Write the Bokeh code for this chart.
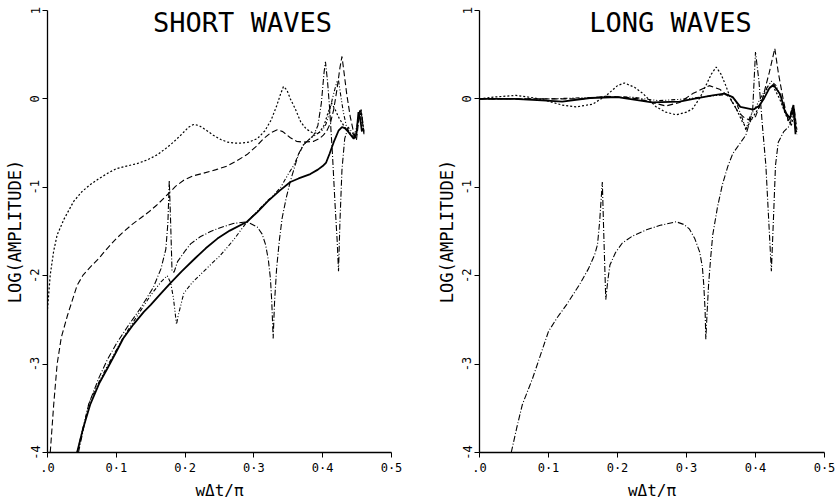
from bokeh.plotting import figure
from bokeh.layouts import row
from bokeh.models import Range1d, FixedTicker, Label
from bokeh.embed import file_html
from bokeh.resources import INLINE

# ---------------- tick labels ----------------
x_ticks = [0, 0.1, 0.2, 0.3, 0.4, 0.5]
x_tick_labels = [".0", "0·1", "0·2", "0·3", "0·4", "0·5"]
y_ticks = [-4, -3, -2, -1, 0, 1]
y_tick_labels = ["-4", "-3", "-2", "-1", "0", "1"]

# ---------------- SHORT WAVES ----------------
sw_dot_x = [0.0, 0.004, 0.009, 0.014, 0.024, 0.038, 0.05, 0.062, 0.075, 0.09, 0.10, 0.115, 0.131, 0.145,
            0.16, 0.172, 0.183, 0.195, 0.205, 0.212, 0.22, 0.23, 0.241, 0.252, 0.262, 0.272, 0.28, 0.292,
            0.305, 0.316, 0.325, 0.333, 0.339, 0.343, 0.348, 0.353, 0.36, 0.368, 0.376, 0.387, 0.395,
            0.402, 0.408, 0.413, 0.418, 0.424, 0.432, 0.44, 0.447, 0.452, 0.456, 0.46]
sw_dot_y = [-2.38, -1.99, -1.72, -1.54, -1.36, -1.16, -1.05, -0.97, -0.9, -0.83, -0.79, -0.76, -0.73, -0.69,
            -0.63, -0.56, -0.49, -0.4, -0.32, -0.29, -0.3, -0.35, -0.41, -0.46, -0.49, -0.5, -0.5, -0.49,
            -0.45, -0.36, -0.24, -0.08, 0.06, 0.14, 0.1, 0.0, -0.11, -0.26, -0.34, -0.39, -0.38,
            -0.3, -0.15, -0.05, -0.12, -0.22, -0.32, -0.4, -0.45, -0.25, -0.15, -0.38]

sw_dash_x = [0.004, 0.009, 0.014, 0.02, 0.029, 0.043, 0.052, 0.0625, 0.075, 0.087, 0.1, 0.111, 0.123, 0.135,
             0.147, 0.159, 0.176, 0.186, 0.198, 0.212, 0.227, 0.245, 0.261, 0.275, 0.29, 0.303, 0.314, 0.325,
             0.334, 0.342, 0.353, 0.362, 0.372, 0.387, 0.395, 0.401, 0.406, 0.411, 0.416, 0.421, 0.425,
             0.428, 0.431, 0.435, 0.44, 0.445, 0.449, 0.453, 0.456, 0.46]
sw_dash_y = [-4.0, -3.46, -3.0, -2.7, -2.45, -2.11, -1.99, -1.9, -1.8, -1.69, -1.58, -1.5, -1.42, -1.35,
             -1.28, -1.2, -1.07, -0.99, -0.92, -0.87, -0.84, -0.8, -0.76, -0.7, -0.63, -0.54, -0.45, -0.38,
             -0.35, -0.37, -0.44, -0.48, -0.49, -0.48, -0.45, -0.41, -0.36, -0.28, -0.12, 0.12, 0.35,
             0.48, 0.3, 0.05, -0.2, -0.38, -0.47, -0.2, -0.15, -0.4]

sw_solid_x = [0.043, 0.052, 0.062, 0.075, 0.087, 0.1, 0.11, 0.125, 0.14, 0.15, 0.165, 0.179, 0.195, 0.215,
              0.23, 0.247, 0.265, 0.29, 0.305, 0.32, 0.337, 0.353, 0.365, 0.382, 0.393, 0.40, 0.405, 0.41,
              0.416, 0.423, 0.428, 0.432, 0.437, 0.445, 0.449, 0.452, 0.455, 0.457]
sw_solid_y = [-4.0, -3.72, -3.46, -3.22, -3.05, -2.86, -2.71, -2.55, -2.41, -2.33, -2.2, -2.08, -1.95, -1.8,
              -1.69, -1.58, -1.49, -1.39, -1.28, -1.16, -1.04, -0.94, -0.9, -0.85, -0.8, -0.76, -0.72, -0.62,
              -0.49, -0.36, -0.32, -0.33, -0.37, -0.45, -0.4, -0.15, -0.25, -0.37]

sw_dd1_x = [0.045, 0.06, 0.075, 0.087, 0.1, 0.116, 0.135, 0.154, 0.165, 0.172, 0.175, 0.177, 0.179, 0.181,
            0.184, 0.189, 0.2, 0.208, 0.222, 0.237, 0.25, 0.27, 0.29, 0.305, 0.312, 0.317, 0.321, 0.324,
            0.326, 0.328, 0.33, 0.333, 0.337, 0.341, 0.347, 0.353, 0.36, 0.365, 0.372, 0.38, 0.387, 0.393,
            0.398, 0.402, 0.404, 0.407, 0.41, 0.414, 0.418, 0.421, 0.423, 0.425, 0.428, 0.432, 0.437,
            0.443, 0.448, 0.452, 0.456, 0.46]
sw_dd1_y = [-4.0, -3.45, -3.15, -2.95, -2.77, -2.58, -2.37, -2.13, -1.92, -1.7, -1.4, -0.92, -1.4, -1.95,
            -1.96, -1.84, -1.72, -1.64, -1.56, -1.5, -1.46, -1.41, -1.39, -1.45, -1.53, -1.65, -1.82, -2.03,
            -2.3, -2.71, -2.3, -1.92, -1.6, -1.35, -1.12, -0.93, -0.75, -0.62, -0.52, -0.46, -0.41, -0.3,
            -0.05, 0.3, 0.42, 0.2, -0.1, -0.6, -1.2, -1.6, -1.95, -1.4, -0.8, -0.45, -0.32,
            -0.38, -0.45, -0.2, -0.12, -0.38]

sw_dd2_x = [0.043, 0.06, 0.075, 0.087, 0.1, 0.11, 0.13, 0.15, 0.165, 0.174, 0.179, 0.183, 0.186, 0.1875,
            0.19, 0.198, 0.21, 0.222, 0.235, 0.25, 0.27, 0.29, 0.305, 0.32, 0.33, 0.339, 0.35, 0.358,
            0.365, 0.372, 0.38, 0.387, 0.395, 0.40, 0.405, 0.41, 0.414, 0.418, 0.421, 0.423, 0.426, 0.43,
            0.435, 0.44, 0.445, 0.45, 0.454, 0.458]
sw_dd2_y = [-4.0, -3.45, -3.2, -3.02, -2.84, -2.7, -2.46, -2.22, -2.07, -2.0, -2.08, -2.25, -2.45, -2.55,
            -2.45, -2.2, -2.08, -1.99, -1.89, -1.78, -1.6, -1.39, -1.27, -1.15, -1.08, -1.0, -0.85, -0.75,
            -0.63, -0.52, -0.46, -0.42, -0.38, -0.35, -0.28, -0.15, 0.0, 0.12, 0.2, 0.21, 0.05, -0.15,
            -0.33, -0.38, -0.44, -0.3, -0.12, -0.36]

# ---------------- LONG WAVES ----------------
lw_dot_x = [0.0, 0.02, 0.053, 0.08, 0.097, 0.12, 0.14, 0.164, 0.184, 0.2, 0.21, 0.225, 0.237, 0.256, 0.27,
            0.285, 0.3, 0.309, 0.32, 0.328, 0.336, 0.343, 0.35, 0.357, 0.364, 0.372, 0.381, 0.387, 0.395,
            0.405, 0.415, 0.425, 0.435, 0.445, 0.452, 0.456, 0.46]
lw_dot_y = [0.0, 0.02, 0.04, 0.01, -0.02, -0.07, -0.09, -0.06, 0.04, 0.15, 0.18, 0.13, 0.06, -0.09, -0.15,
            -0.18, -0.15, -0.11, 0.02, 0.15, 0.28, 0.36, 0.28, 0.15, 0.0, -0.11, -0.26, -0.33, -0.22,
            -0.1, 0.1, 0.15, 0.0, -0.2, -0.3, -0.15, -0.4]

lw_dash_x = [0.0, 0.05, 0.1, 0.15, 0.184, 0.21, 0.23, 0.25, 0.27, 0.29, 0.309, 0.333, 0.348, 0.362, 0.375,
             0.385, 0.393, 0.40, 0.41, 0.42, 0.428, 0.433, 0.44, 0.447, 0.452, 0.456, 0.46]
lw_dash_y = [0.0, 0.0, 0.0, 0.0, 0.03, 0.02, 0.0, -0.04, -0.08, -0.04, 0.06, 0.15, 0.11, 0.02, -0.15,
             -0.22, -0.24, -0.2, 0.0, 0.3, 0.57, 0.3, 0.0, -0.25, -0.2, -0.1, -0.35]

lw_solid_x = [0.0, 0.05, 0.097, 0.12, 0.16, 0.2, 0.25, 0.29, 0.31, 0.338, 0.355, 0.367, 0.378, 0.397,
              0.405, 0.412, 0.42, 0.426, 0.436, 0.443, 0.45, 0.455, 0.458]
lw_solid_y = [0.0, 0.0, -0.02, -0.03, 0.01, 0.02, -0.04, -0.03, 0.0, 0.04, 0.06, 0.02, -0.09, -0.12,
              -0.08, 0.0, 0.12, 0.16, 0.05, -0.15, -0.22, -0.07, -0.4]

lw_dd2_x = [0.0, 0.1, 0.18, 0.22, 0.26, 0.3, 0.33, 0.36, 0.37, 0.38, 0.386, 0.392, 0.40, 0.41, 0.423,
            0.43, 0.44, 0.448, 0.453, 0.458]
lw_dd2_y = [0.0, 0.0, 0.02, 0.02, -0.02, 0.0, 0.03, 0.05, 0.0, -0.2, -0.35, -0.2, -0.1, 0.05, 0.2,
            0.15, -0.05, -0.25, -0.1, -0.35]

lw_dd1_x = [0.046, 0.054, 0.062, 0.077, 0.09, 0.10, 0.113, 0.126, 0.145, 0.158, 0.167, 0.171, 0.174,
            0.178, 0.18, 0.183, 0.186, 0.189, 0.197, 0.207, 0.222, 0.242, 0.262, 0.285, 0.296, 0.304,
            0.312, 0.319, 0.323, 0.325, 0.327, 0.328, 0.33, 0.332, 0.335, 0.338, 0.345, 0.352, 0.36,
            0.367, 0.376, 0.386, 0.392, 0.396, 0.40, 0.405, 0.41, 0.415, 0.42, 0.423, 0.426, 0.429,
            0.433, 0.441, 0.45, 0.453, 0.456, 0.459]
lw_dd1_y = [-4.0, -3.72, -3.46, -3.16, -2.86, -2.63, -2.47, -2.33, -2.1, -1.92, -1.76, -1.65, -1.4,
            -0.94, -1.5, -2.27, -2.05, -1.88, -1.74, -1.63, -1.55, -1.48, -1.43, -1.39, -1.42, -1.47,
            -1.58, -1.73, -1.9, -2.1, -2.4, -2.72, -2.4, -2.1, -1.8, -1.54, -1.22, -0.97, -0.76,
            -0.62, -0.52, -0.41, -0.25, -0.11, 0.53, 0.2, -0.3, -0.75, -1.5, -1.95, -1.36, -0.75,
            -0.49, -0.37, -0.3, -0.18, -0.1, -0.37]

FONT = "DejaVu Sans Mono"


def make_panel(title, series, title_x, min_left, min_right, fw):
    p = figure(output_backend="svg", toolbar_location=None,
               frame_width=fw, frame_height=442,
               min_border_left=min_left, min_border_right=min_right,
               min_border_top=10, min_border_bottom=45,
               x_range=Range1d(0, 0.5), y_range=Range1d(-4, 1),
               background_fill_color="white", border_fill_color="white")
    p.outline_line_color = None
    p.grid.visible = False

    for xs, ys, dash, width in series:
        p.line(xs, ys, line_color="black", line_width=width, line_dash=dash)

    xa = p.xaxis[0]
    xa.ticker = FixedTicker(ticks=x_ticks)
    xa.major_label_overrides = dict(zip(x_ticks, x_tick_labels))
    xa.minor_tick_line_color = None
    xa.major_tick_in = 0
    xa.major_tick_out = 5
    xa.major_label_standoff = 3
    xa.major_label_text_font = FONT
    xa.major_label_text_font_size = "12px"
    xa.major_label_text_color = "black"
    xa.axis_label = "wΔt/π"
    xa.axis_label_text_font = FONT
    xa.axis_label_text_font_style = "normal"
    xa.axis_label_text_font_size = "16px"
    xa.axis_label_text_color = "black"
    xa.axis_label_standoff = 3
    xa.axis_line_width = 1.3
    xa.axis_line_color = "black"
    xa.major_tick_line_color = "black"

    ya = p.yaxis[0]
    ya.ticker = FixedTicker(ticks=y_ticks)
    ya.major_label_overrides = dict(zip(y_ticks, y_tick_labels))
    ya.minor_tick_line_color = None
    ya.major_tick_in = 0
    ya.major_tick_out = 5
    ya.major_label_standoff = 3
    ya.major_label_orientation = "vertical"
    ya.major_label_text_font = FONT
    ya.major_label_text_font_size = "12px"
    ya.major_label_text_color = "black"
    ya.axis_label = "LOG(AMPLITUDE)"
    ya.axis_label_text_font = FONT
    ya.axis_label_text_font_style = "normal"
    ya.axis_label_text_font_size = "17px"
    ya.axis_label_text_color = "black"
    ya.axis_label_standoff = 3
    ya.axis_line_width = 1.3
    ya.axis_line_color = "black"
    ya.major_tick_line_color = "black"

    p.add_layout(Label(x=title_x, y=430, x_units="screen", y_units="screen", text=title,
                       text_font=FONT, text_font_size="27px", text_align="center",
                       text_baseline="middle", text_color="black"))
    return p


short_series = [
    (sw_dot_x, sw_dot_y, "2 2", 1.2),
    (sw_dash_x, sw_dash_y, "6 3", 1.1),
    (sw_solid_x, sw_solid_y, "solid", 1.8),
    (sw_dd1_x, sw_dd1_y, "6 2 1 2", 1.1),
    (sw_dd2_x, sw_dd2_y, "4 2 1 2 1 2", 1.1),
]
long_series = [
    (lw_dot_x, lw_dot_y, "2 2", 1.2),
    (lw_dash_x, lw_dash_y, "6 3", 1.1),
    (lw_solid_x, lw_solid_y, "solid", 1.8),
    (lw_dd2_x, lw_dd2_y, "4 2 1 2 1 2", 1.1),
    (lw_dd1_x, lw_dd1_y, "6 2 1 2", 1.1),
]

p1 = make_panel("SHORT WAVES", short_series, 195, 47, 41, 344)
p2 = make_panel("LONG WAVES", long_series, 191, 47, 12, 345)

layout = row(p1, p2)
open("out.html", "w").write(file_html(layout, INLINE))
